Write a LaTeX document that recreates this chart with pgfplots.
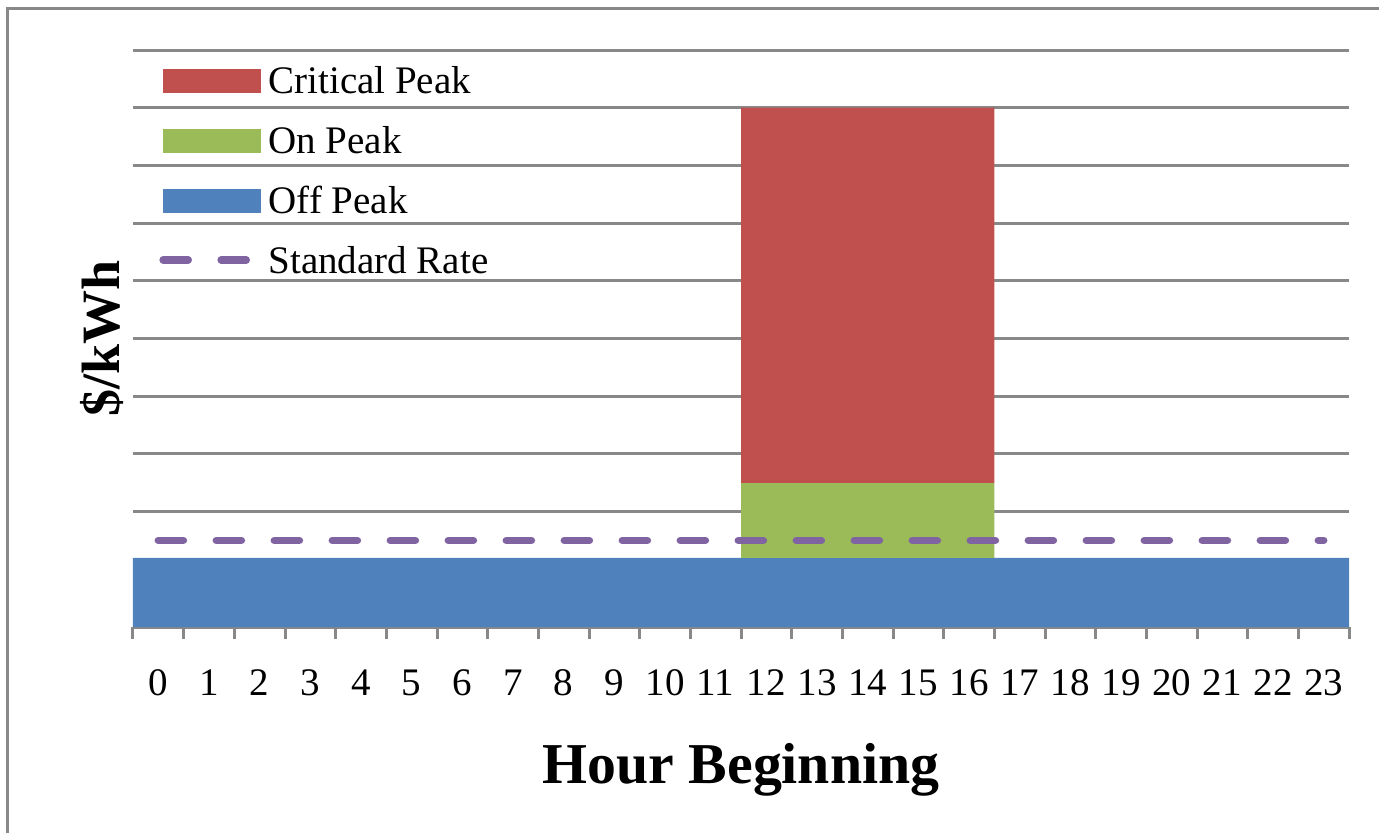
\documentclass[border=0pt]{standalone}
\usepackage{fontspec}
\setmainfont{Liberation Serif}
\usepackage{pgfplots}
\pgfplotsset{compat=1.18}
\definecolor{critred}{RGB}{192,80,77}
\definecolor{ongreen}{RGB}{155,187,89}
\definecolor{offblue}{RGB}{79,129,189}
\definecolor{stdpurple}{RGB}{128,100,162}
\definecolor{gridgray}{RGB}{136,136,136}
\begin{document}
\begin{tikzpicture}
\useasboundingbox (-66.5pt,-102.5pt) rectangle (623pt,313.5pt);
\draw[line width=1.5pt, color=gridgray] (-62.5pt,-120pt) -- (-62.5pt,309.5pt) -- (640pt,309.5pt);
\begin{axis}[
  at={(0pt,0pt)}, anchor=south west,
  scale only axis, width=608pt, height=288.5pt,
  xmin=-0.5, xmax=23.5, ymin=0, ymax=10,
  ybar stacked, bar width=1, reverse stacked plots=false,
  axis x line*=bottom, axis y line*=left,
  x axis line style={draw=gridgray, line width=1.5pt, -},
  y axis line style={draw=none},
  xtick={0,...,23},
  xticklabels={0,1,2,3,4,5,6,7,8,9,10,11,12,13,14,15,16,17,18,19,20,21,22,23},
  major x tick style={draw=none},
  minor xtick={-0.5,0.5,...,23.5},
  minor x tick style={draw=gridgray, line width=1.5pt},
  minor tick length=6pt,
  major tick length=0pt,
  tick align=outside,
  ytick={0,1,...,10}, yticklabels={},
  major y tick style={draw=none},
  ymajorgrids, grid style={draw=gridgray, line width=1.5pt},
  xticklabel style={font=\fontsize{19.5}{22}\selectfont, anchor=base, yshift=-34pt},
  xlabel={Hour Beginning},
  ylabel={\$/kWh},
  every axis x label/.style={at={([yshift=-78pt]rel axis cs:0.5,0)}, anchor=base, font=\bfseries\fontsize{28.9}{32}\selectfont},
  every axis y label/.style={at={([xshift=-6.5pt]rel axis cs:0,0.5)}, rotate=90, anchor=base, font=\bfseries\fontsize{27}{30}\selectfont},
  legend style={at={([xshift=13pt,yshift=-9pt]rel axis cs:0,1)}, anchor=north west, draw=none, fill=none,
    font=\fontsize{19.5}{22}\selectfont, row sep=13.5pt, inner sep=0pt,
    nodes={inner sep=0pt, text height=12.5pt, text depth=4pt}},
  legend cell align=left,
  /tikz/every odd column/.append style={column sep=4pt},
]
\addlegendimage{legend image code/.code={\fill[critred] (0pt,-3.5pt) rectangle (48.5pt,8pt);}}
\addlegendentry{Critical Peak}
\addlegendimage{legend image code/.code={\fill[ongreen] (0pt,-3.5pt) rectangle (48.5pt,8pt);}}
\addlegendentry{On Peak}
\addlegendimage{legend image code/.code={\fill[offblue] (0pt,-3.5pt) rectangle (48.5pt,8pt);}}
\addlegendentry{Off Peak}
\addlegendimage{legend image code/.code={\draw[stdpurple, line width=3.8pt, line cap=round, dash pattern=on 12.5pt off 16.5pt] (0pt,2.5pt) -- (42pt,2.5pt);}}
\addlegendentry{Standard Rate}

% Off Peak
\addplot[fill=offblue, draw=none] coordinates {
(0,1.2) (1,1.2) (2,1.2) (3,1.2) (4,1.2) (5,1.2) (6,1.2) (7,1.2) (8,1.2) (9,1.2) (10,1.2) (11,1.2)
(12,1.2) (13,1.2) (14,1.2) (15,1.2) (16,1.2) (17,1.2) (18,1.2) (19,1.2) (20,1.2) (21,1.2) (22,1.2) (23,1.2)};
% On Peak
\addplot[fill=ongreen, draw=none] coordinates {
(0,0) (1,0) (2,0) (3,0) (4,0) (5,0) (6,0) (7,0) (8,0) (9,0) (10,0) (11,0)
(12,1.3) (13,1.3) (14,1.3) (15,1.3) (16,1.3) (17,0) (18,0) (19,0) (20,0) (21,0) (22,0) (23,0)};
% Critical Peak
\addplot[fill=critred, draw=none] coordinates {
(0,0) (1,0) (2,0) (3,0) (4,0) (5,0) (6,0) (7,0) (8,0) (9,0) (10,0) (11,0)
(12,6.5) (13,6.5) (14,6.5) (15,6.5) (16,6.5) (17,0) (18,0) (19,0) (20,0) (21,0) (22,0) (23,0)};
% Standard Rate
\addplot[stack plots=false, sharp plot, mark=none, stdpurple, line width=3.8pt, line cap=round, dash pattern=on 12.5pt off 16.5pt] coordinates {(0,1.5) (23,1.5)};
\end{axis}
\end{tikzpicture}
\end{document}
